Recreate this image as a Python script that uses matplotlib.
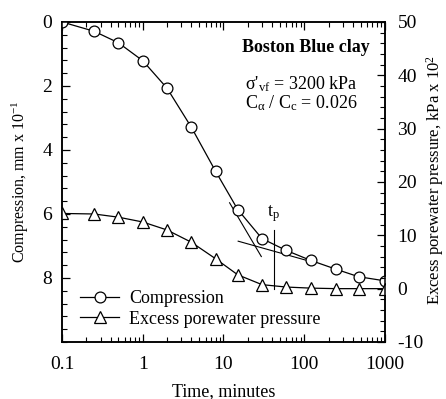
import numpy as np
import matplotlib.pyplot as plt
from matplotlib.ticker import MultipleLocator, FixedLocator, LogLocator, NullFormatter

plt.rcParams['font.family'] = ['Liberation Serif', 'DejaVu Serif']
plt.rcParams['mathtext.fontset'] = 'custom'
plt.rcParams['mathtext.rm'] = 'Liberation Serif'
plt.rcParams['mathtext.it'] = 'Liberation Serif:italic'
plt.rcParams['axes.unicode_minus'] = False
plt.rcParams['font.size'] = 13

# time, minutes
time = [0.1, 0.25, 0.5, 1, 2, 4, 8, 15, 30, 60, 120, 250, 470, 1000]
# compression, mm x 10^-1
compression = [0.0, 0.29, 0.65, 1.21, 2.07, 3.29, 4.67, 5.86, 6.77, 7.14, 7.45, 7.73, 7.96, 8.09]
# excess porewater pressure, kPa x 10^2
pore_pressure = [14.1, 14.0, 13.4, 12.5, 11.0, 8.7, 5.6, 2.6, 0.75, 0.3, 0.1, 0.0, 0.0, 0.0]

# construction lines for t_p (time, compression)
steep_t = [11.9, 29.4]
steep_c = [5.65, 7.33]
flat_t = [15.2, 118]
flat_c = [6.85, 7.48]
tp = 42
tp_c = [6.51, 8.33]

xticks = [0.1, 1, 10, 100, 1000]
xticklabels = ['0.1', '1', '10', '100', '1000']

fig = plt.figure(figsize=(4.46, 3.99), dpi=100)
ax = fig.add_axes([0.139, 0.1429, 0.7242, 0.802])
ax2 = ax.twinx()

l1, = ax.plot(time, compression, color='black', lw=0.9, marker='o', ms=7.8,
              mfc='white', mec='black', mew=0.9, zorder=3, label='Compression')
ax.plot(steep_t, steep_c, color='black', lw=0.8)
ax.plot(flat_t, flat_c, color='black', lw=0.8)
ax.plot([tp, tp], tp_c, color='black', lw=0.8)
ax.text(tp, 6.0, 't$_\\mathrm{p}$', ha='center', va='center', fontsize=13)

l2, = ax2.plot(time, pore_pressure, color='black', lw=0.9, marker='^', ms=8.5,
               mfc='white', mec='black', mew=0.9, label='Excess porewater pressure')

ax.set_xscale('log')
ax.set_xlim(0.1, 1000)
ax.xaxis.set_major_locator(FixedLocator(xticks))
ax.set_xticklabels(xticklabels)
ax.xaxis.set_minor_locator(LogLocator(base=10, subs=np.arange(2, 10)))
ax.xaxis.set_minor_formatter(NullFormatter())

ax.set_ylim(10, 0)
ax.yaxis.set_major_locator(FixedLocator([0, 2, 4, 6, 8]))
ax.yaxis.set_minor_locator(MultipleLocator(0.4))

ax2.set_ylim(-10, 50)
ax2.yaxis.set_major_locator(MultipleLocator(10))
ax2.yaxis.set_minor_locator(MultipleLocator(2))

ax.tick_params(which='both', direction='in', top=True, right=False, labelsize=14)
ax.tick_params(which='major', length=6, width=0.9)
ax.tick_params(which='minor', length=3.5, width=0.8)
ax.tick_params(axis='x', which='major', pad=10)
ax.tick_params(axis='y', which='major', pad=7)
ax2.tick_params(which='both', direction='in', labelsize=14)
ax2.tick_params(which='major', length=6, width=0.9, pad=9)
ax2.tick_params(which='minor', length=3.5, width=0.8)

for a in (ax, ax2):
    for s in a.spines.values():
        s.set_linewidth(1.1)

ax.set_xlabel('Time, minutes', labelpad=7, fontsize=13)
ax.set_ylabel('Compression, mm x 10$^{-1}$', labelpad=8, fontsize=11.5)
fig.text(0.976, 0.55, 'Excess porewater pressure, kPa x 10$^{2}$', rotation=90,
         ha='center', va='center', fontsize=12)

ax.text(0.953, 0.919, 'Boston Blue clay', transform=ax.transAxes, ha='right',
        va='center', fontweight='bold', fontsize=13)
ax.text(0.567, 0.806, "σ'$_\\mathrm{vf}$ = 3200 kPa", transform=ax.transAxes,
        ha='left', va='center', fontsize=13)
ax.text(0.567, 0.746, 'C$_\\mathrm{α}$ / C$_\\mathrm{c}$ = 0.026', transform=ax.transAxes,
        ha='left', va='center', fontsize=13)

ax2.legend(handles=[l1, l2], loc='lower left', bbox_to_anchor=(0.055, 0.045),
           frameon=False, handlelength=2.2, handletextpad=0.55, borderpad=0,
           borderaxespad=0, labelspacing=0.2, fontsize=13)

plt.savefig('out.png', dpi=100)
